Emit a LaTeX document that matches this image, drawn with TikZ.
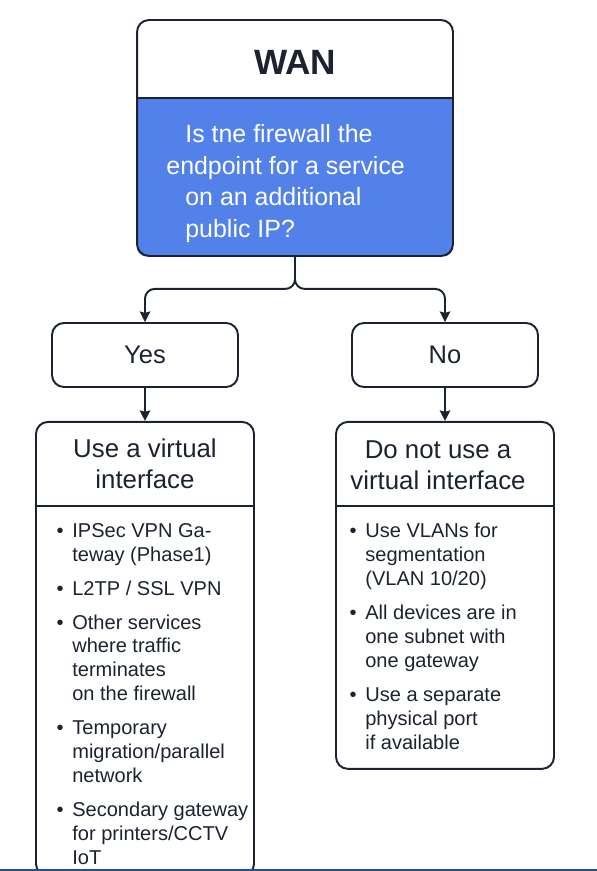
\documentclass[tikz,border=0pt]{standalone}
\usepackage{fontspec}
\setmainfont{Liberation Sans}
\usetikzlibrary{shapes,arrows,arrows.meta,positioning,calc,backgrounds}

\definecolor{inkdark}{HTML}{1B2331}
\definecolor{wanblue}{HTML}{5281EA}
\definecolor{edgeblue}{HTML}{24508F}

\newcommand{\bul}{\llap{\textbullet\hspace{5pt}}}

\begin{document}
\begin{tikzpicture}[x=0.02cm, y=-0.02cm, node distance=0.66cm,
    box/.style={draw=inkdark, line width=1.1pt, rounded corners=6.8pt, inner sep=0pt},
    choice/.style={box, minimum width=3.72cm, minimum height=1.28cm, font=\fontsize{14.5}{17.6}\selectfont, text=inkdark},
    bigbox/.style={box, minimum width=4.36cm},
    headtext/.style={align=center, font=\fontsize{14.7}{17.6}\selectfont, text=inkdark, inner sep=0pt},
    listtext/.style={align=left, font=\fontsize{11.4}{13.6}\selectfont, text=inkdark, inner sep=0pt, anchor=north west},
    divider/.style={draw=inkdark, line width=1.1pt},
    arrow/.style={draw=inkdark, line width=1.1pt, ->, >={Stealth[length=6pt, width=6pt, inset=0.8pt]}, rounded corners=5.5pt}]

        \useasboundingbox (0,0) rectangle (597,871);

        % WAN question
        \node [box, minimum width=6.32cm, minimum height=4.72cm] (wan) at (295,138) {};
        \begin{scope}[on background layer]
            \clip [rounded corners=6.8pt] (wan.north west) rectangle (wan.south east);
            \fill [wanblue] (137,98) rectangle (453,256);
        \end{scope}
        \draw [divider] (137,98) -- (453,98);
        \node [font=\fontsize{20}{24}\selectfont\bfseries, text=inkdark] (wantitle) at (295,62) {WAN};
        \node [listtext, font=\fontsize{14.2}{18}\selectfont, text=white] (question) at (185,124)
            {Is tne firewall the\\
             \hspace*{-10.8pt}endpoint for a service\\
             on an additional\\
             public IP?};

        % Yes / No
        \node [choice] (yes) at (145,355) {Yes};
        \node [choice] (no) at (445,355) {No};

        \coordinate (fork) at ($(wan.south)+(0,32)$);
        \draw [arrow] (wan.south) -- (fork) -| (yes.north);
        \draw [arrow] (wan.south) -- (fork) -| (no.north);

        % Outcomes
        \node [bigbox, minimum height=9.08cm, below=of yes] (useit) {};
        \node [bigbox, minimum height=6.94cm, below=of no] (nouse) {};

        \draw [arrow] (yes) -- (useit);
        \draw [arrow] (no) -- (nouse);

        \node [headtext] (useithead) at (145,464) {Use a virtual\\interface};
        \node [headtext] (nousehead) at (438,465) {Do not use a\\virtual interface};

        \coordinate (cut) at (0,506);
        \draw [divider] (useit.west |- cut) -- (useit.east |- cut);
        \draw [divider] (nouse.west |- cut) -- (nouse.east |- cut);

        \node [listtext] (useitlist) at (72,523)
            {\bul IPSec VPN Ga-\\
             teway (Phase1)\\[5.7pt]
             \bul L2TP / SSL VPN\\[5.7pt]
             \bul Other services\\
             where traffic\\
             terminates\\
             on the firewall\\[5.7pt]
             \bul Temporary\\
             migration/parallel\\
             network\\[5.7pt]
             \bul Secondary gateway\\
             for printers/CCTV\\
             IoT};

        \node [listtext] (nouselist) at (365,523)
            {\bul Use VLANs for\\
             segmentation\\
             (VLAN 10/20)\\[5.7pt]
             \bul All devices are in\\
             one subnet with\\
             one gateway\\[5.7pt]
             \bul Use a separate\\
             physical port\\
             if available};

        % bottom rule
        \draw [edgeblue, line width=1.5pt] (0,870.2) -- (597,870.2);

    \end{tikzpicture}
\end{document}
